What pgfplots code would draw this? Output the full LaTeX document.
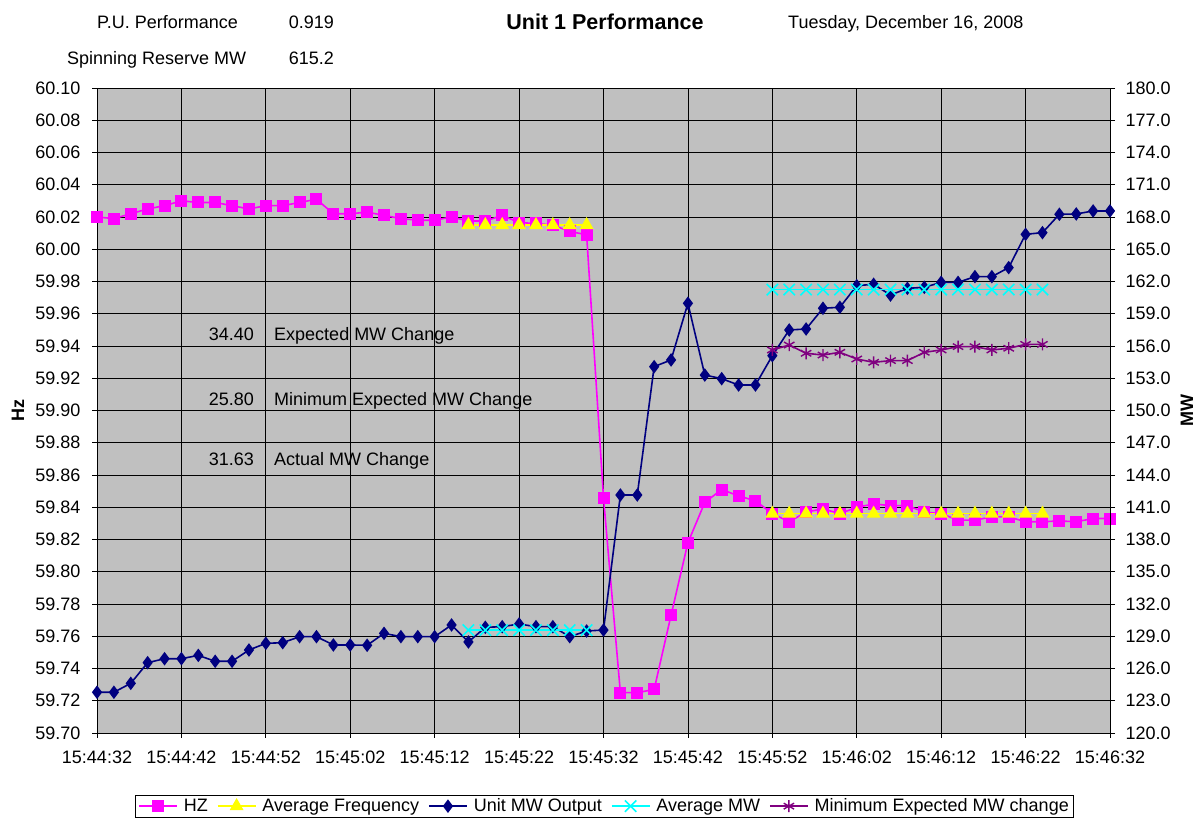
\documentclass[border=0pt]{standalone}
\usepackage{fontspec}
\setmainfont{Liberation Sans}
\usepackage{pgfplots}
\pgfplotsset{compat=1.18}
\usepackage{pgfplotstable}

\definecolor{hz}{RGB}{255,0,255}
\definecolor{avf}{RGB}{255,255,0}
\definecolor{mw}{RGB}{0,0,128}
\definecolor{avmw}{RGB}{0,255,255}
\definecolor{minmw}{RGB}{128,0,128}
\definecolor{plotbg}{RGB}{192,192,192}

\newcommand{\f}{\fontsize{18bp}{21bp}\selectfont}

\pgfplotstableread{
t hz
0 60.020
2 60.019
4 60.022
6 60.025
8 60.027
10 60.030
12 60.029
14 60.029
16 60.027
18 60.025
20 60.027
22 60.027
24 60.029
26 60.031
28 60.022
30 60.022
32 60.023
34 60.021
36 60.019
38 60.018
40 60.018
42 60.020
44 60.0175
46 60.0175
48 60.021
50 60.0165
52 60.016
54 60.015
56 60.011
58 60.009
60 59.846
62 59.725
64 59.725
66 59.727
68 59.773
70 59.818
72 59.843
74 59.851
76 59.847
78 59.844
80 59.836
82 59.831
84 59.837
86 59.839
88 59.836
90 59.840
92 59.842
94 59.841
96 59.841
98 59.837
100 59.836
102 59.832
104 59.832
106 59.834
108 59.834
110 59.831
112 59.831
114 59.8315
116 59.831
118 59.833
120 59.833
}\hzdata

\pgfplotstableread{
t f
44 60.015
46 60.015
48 60.015
50 60.015
52 60.015
54 60.015
56 60.015
58 60.015
}\avfA

\pgfplotstableread{
t f
80 59.836
82 59.836
84 59.836
86 59.836
88 59.836
90 59.836
92 59.836
94 59.836
96 59.836
98 59.836
100 59.836
102 59.836
104 59.836
106 59.836
108 59.836
110 59.836
112 59.836
}\avfB

\pgfplotstableread{
t mw
0 123.79
2 123.79
4 124.62
6 126.54
8 126.91
10 126.91
12 127.22
14 126.67
16 126.67
18 127.72
20 128.34
22 128.40
24 128.96
26 128.96
28 128.19
30 128.19
32 128.16
34 129.27
36 128.96
38 128.96
40 128.96
42 130.05
44 128.47
46 129.83
48 129.89
50 130.14
52 129.89
54 129.89
56 128.96
58 129.49
60 129.58
62 142.14
64 142.14
66 154.08
68 154.70
70 159.97
72 153.30
74 152.96
76 152.37
78 152.37
80 155.10
82 157.49
84 157.58
86 159.51
88 159.60
90 161.61
92 161.74
94 160.74
96 161.36
98 161.46
100 161.92
102 161.92
104 162.45
106 162.45
108 163.29
110 166.39
112 166.54
114 168.25
116 168.28
118 168.56
120 168.56
}\mwdata

\pgfplotstableread{
t a
44 129.57
46 129.57
48 129.57
50 129.57
52 129.57
54 129.57
56 129.57
58 129.57
}\avmwA

\pgfplotstableread{
t a
80 161.25
82 161.25
84 161.25
86 161.25
88 161.25
90 161.25
92 161.25
94 161.25
96 161.25
98 161.25
100 161.25
102 161.25
104 161.25
106 161.25
108 161.25
110 161.25
112 161.25
}\avmwB

\pgfplotstableread{
t m
80 155.63
82 156.09
84 155.32
86 155.16
88 155.41
90 154.79
92 154.48
94 154.64
96 154.64
98 155.41
100 155.63
102 155.94
104 155.94
106 155.63
108 155.79
110 156.15
112 156.15
}\minmwdata

\begin{document}
\begin{tikzpicture}[x=1bp,y=1bp]
\useasboundingbox (0,0) rectangle (1199,819);
\pgfplotsset{
  base/.style={
    scale only axis, width=1013bp, height=645bp,
    at={(97bp,86bp)}, anchor=south west,
    xmin=0, xmax=120,
    tick align=center, major tick length=10bp,
    tick style={black, line width=0.8bp},
    tick label style={font=\f, black},
    /pgf/number format/assume math mode=true,
    axis line style={black, line width=0.8bp},
    legend image code/.code={
      \draw[mark repeat=2,mark phase=2] plot coordinates {(0bp,0bp)(19bp,0bp)(38bp,0bp)};
    },
  },
  hzstyle/.style={hz, line width=1.6bp, mark=square*, mark size=5.2bp, mark options={solid, fill=hz, draw=hz}},
  avfstyle/.style={avf, line width=1.6bp, mark=triangle*, mark size=6.5bp, mark options={solid, fill=avf, draw=avf}},
  mwstyle/.style={mw, line width=1.6bp, mark=diamond*, mark size=5.5bp, mark options={solid, fill=mw, draw=mw}},
  avmwstyle/.style={avmw, line width=1.6bp, mark=x, mark size=8bp, mark options={solid, draw=avmw, line width=1.6bp}},
  minstyle/.style={minmw, line width=1.6bp, mark=asterisk, mark size=6bp, mark options={solid, draw=minmw, line width=1.4bp}},
}

% header texts
\node[anchor=base west, font=\f, inner sep=0] at (97,790.5) {P.U. Performance};
\node[anchor=base east, font=\f, inner sep=0] at (334,790.5) {0.919};
\node[anchor=base, font=\fontsize{21.5bp}{24bp}\selectfont\bfseries, inner sep=0] at (605,789.5) {Unit 1 Performance};
\node[anchor=base west, font=\f, inner sep=0] at (788,790.5) {Tuesday, December 16, 2008};
\node[anchor=base west, font=\f, inner sep=0] at (67,754.5) {Spinning Reserve MW};
\node[anchor=base east, font=\f, inner sep=0] at (334,754.5) {615.2};

\begin{axis}[base,
  ymin=59.70, ymax=60.10,
  ytick={59.70,59.72,59.74,59.76,59.78,59.80,59.82,59.84,59.86,59.88,59.90,59.92,59.94,59.96,59.98,60.00,60.02,60.04,60.06,60.08,60.10},
  xtick={0,10,...,120},
  xticklabels={15:44:32,15:44:42,15:44:52,15:45:02,15:45:12,15:45:22,15:45:32,15:45:42,15:45:52,15:46:02,15:46:12,15:46:22,15:46:32},
  ytick pos=left, xtick pos=bottom,
  yticklabel style={xshift=-8bp, /pgf/number format/.cd, fixed, fixed zerofill, precision=2},
  xticklabel style={yshift=-9bp},
  grid=major, major grid style={black, line width=0.8bp},
  axis background/.style={fill=plotbg},
  ylabel={\bfseries Hz}, ylabel style={font=\f, at={(axis description cs:-0.078,0.5)}, anchor=center},
]
\addplot[hzstyle] table[x=t,y=hz] {\hzdata};
\addplot[avfstyle] table[x=t,y=f] {\avfA};
\addplot[avfstyle] table[x=t,y=f] {\avfB};
\node[anchor=base east, font=\f, inner sep=0] at (axis cs:18.6,59.9435) {34.40};
\node[anchor=base west, font=\f, inner sep=0] at (axis cs:20.97,59.9435) {Expected MW Change};
\node[anchor=base east, font=\f, inner sep=0] at (axis cs:18.6,59.9032) {25.80};
\node[anchor=base west, font=\f, inner sep=0] at (axis cs:20.97,59.9032) {Minimum Expected MW Change};
\node[anchor=base east, font=\f, inner sep=0] at (axis cs:18.6,59.8656) {31.63};
\node[anchor=base west, font=\f, inner sep=0] at (axis cs:20.97,59.8656) {Actual MW Change};
\end{axis}

\begin{axis}[base,
  ymin=120, ymax=180,
  ytick={120,123,...,180},
  axis y line*=right, axis x line=none,
  yticklabel style={xshift=7bp, /pgf/number format/.cd, fixed, fixed zerofill, precision=1},
  ylabel={\bfseries MW}, ylabel style={font=\f, at={(axis description cs:1.076,0.5)}, anchor=center},
  legend columns=-1,
  legend style={at={(axis description cs:0.501,-0.0961)}, anchor=north, font=\f,
    draw=black, line width=0.8bp, fill=white, inner xsep=3bp, inner ysep=1.5bp,
    nodes={inner sep=2bp},
    /tikz/every odd column/.append style={column sep=4bp},
    /tikz/every even column/.append style={column sep=7bp}},
]
\addlegendimage{hzstyle}
\addlegendentry{HZ}
\addlegendimage{avfstyle}
\addlegendentry{Average Frequency}
\addplot[mwstyle] table[x=t,y=mw] {\mwdata};
\addlegendentry{Unit MW Output}
\addplot[avmwstyle] table[x=t,y=a] {\avmwA};
\addlegendentry{Average MW}
\addplot[avmwstyle, forget plot] table[x=t,y=a] {\avmwB};
\addplot[minstyle] table[x=t,y=m] {\minmwdata};
\addlegendentry{Minimum Expected MW change}
\end{axis}
\end{tikzpicture}
\end{document}
